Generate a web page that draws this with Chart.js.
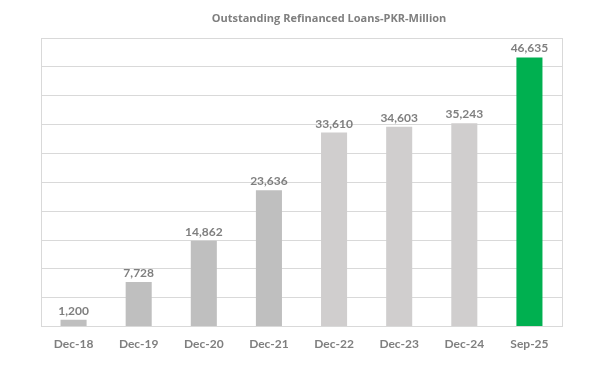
<!DOCTYPE html>
<html>
<head>
<meta charset="utf-8">
<script src="https://cdn.jsdelivr.net/npm/chart.js@4/dist/chart.umd.min.js"></script>
<style>
  html, body { margin: 0; padding: 0; background: #ffffff; }
  #wrap { width: 610px; height: 370px; position: relative; }
</style>
</head>
<body>
<div id="wrap"><canvas id="c" width="610" height="370"></canvas></div>
<script>
const categories = ["Dec-18", "Dec-19", "Dec-20", "Dec-21", "Dec-22", "Dec-23", "Dec-24", "Sep-25"];
const loanValues = [1200, 7728, 14862, 23636, 33610, 34603, 35243, 46635];
const barColors = ["#bfbfbf", "#bfbfbf", "#bfbfbf", "#bfbfbf", "#d0cece", "#d0cece", "#d0cece", "#00b050"];
const chartTitle = "Outstanding Refinanced Loans-PKR-Million";

const FONT = "Lato, 'Open Sans', sans-serif";
const TXT = "#7f7f7f";

const valueLabels = {
  id: "valueLabels",
  afterDatasetsDraw(chart) {
    const ctx = chart.ctx;
    const meta = chart.getDatasetMeta(0);
    ctx.save();
    ctx.font = "bold 12px " + FONT;
    ctx.fillStyle = TXT;
    ctx.textAlign = "center";
    ctx.textBaseline = "alphabetic";
    meta.data.forEach((bar, i) => {
      ctx.fillText(loanValues[i].toLocaleString("en-US"), bar.x, bar.y - 5);
    });
    ctx.restore();
  }
};

const frameAndTitle = {
  id: "frameAndTitle",
  afterDraw(chart) {
    const a = chart.chartArea;
    const ctx = chart.ctx;
    ctx.save();
    ctx.strokeStyle = "#d9d9d9";
    ctx.lineWidth = 1;
    ctx.beginPath();
    ctx.moveTo(Math.round(a.right) + 0.5, a.top);
    ctx.lineTo(Math.round(a.right) + 0.5, a.bottom);
    ctx.stroke();
    ctx.font = "bold 11px 'Open Sans', sans-serif";
    ctx.fillStyle = TXT;
    ctx.textAlign = "center";
    ctx.textBaseline = "middle";
    ctx.fillText(chartTitle, 329, 18.5);
    ctx.restore();
  }
};

new Chart(document.getElementById("c"), {
  type: "bar",
  data: {
    labels: categories,
    datasets: [{
      data: loanValues,
      backgroundColor: barColors,
      borderWidth: 0,
      categoryPercentage: 1.0,
      barPercentage: 0.4
    }]
  },
  options: {
    responsive: false,
    animation: false,
    devicePixelRatio: 1,
    layout: { padding: { left: 41, right: 48, top: 38, bottom: 9 } },
    plugins: {
      legend: { display: false },
      tooltip: { enabled: false },
      title: { display: false }
    },
    scales: {
      x: {
        grid: { display: false, drawTicks: false },
        border: { display: true, color: "#d9d9d9" },
        ticks: {
          color: TXT,
          font: { family: FONT, size: 12, weight: "bold" },
          padding: 10,
          maxRotation: 0
        }
      },
      y: {
        min: 0,
        max: 50000,
        ticks: { display: false, stepSize: 5000 },
        grid: { color: "#d9d9d9", drawTicks: false },
        border: { display: true, color: "#d9d9d9" }
      }
    }
  },
  plugins: [valueLabels, frameAndTitle]
});
</script>
</body>
</html>
